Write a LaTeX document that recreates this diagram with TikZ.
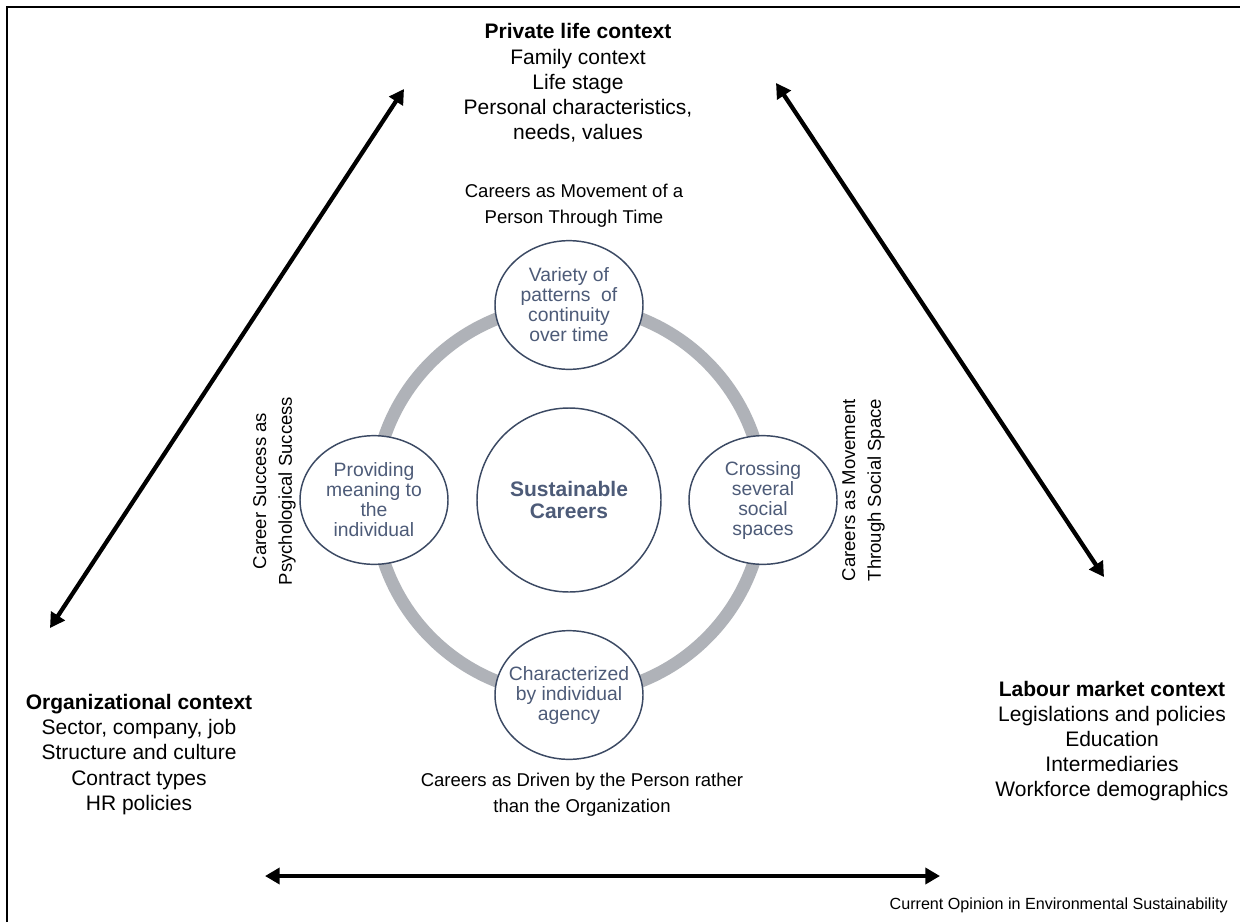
\documentclass[tikz,border=0pt]{standalone}
\usepackage{fontspec}
\setmainfont{Liberation Sans}
\usetikzlibrary{arrows.meta,shapes.geometric}
\definecolor{navy}{HTML}{3B4963}
\definecolor{slate}{HTML}{4D5B78}
\definecolor{ringgray}{HTML}{AFB2B8}
\tikzset{
  ctx/.style={align=center,inner sep=0pt,font=\fontsize{15.75}{18.9}\selectfont},
  sub/.style={align=center,inner sep=0pt,font=\fontsize{13.9}{19.4}\selectfont},
  ell/.style={draw=navy,line width=1.1pt,fill=white,ellipse,inner sep=0pt,minimum width=111pt,minimum height=96.5pt},
  elltext/.style={align=center,inner sep=0pt,text=slate,font=\fontsize{14.5}{15}\selectfont},
  ringstyle/.style={draw=ringgray,line width=9.5pt},
  bigarrow/.style={line width=3.2pt,{Triangle[length=11pt,width=12pt]}-{Triangle[length=11pt,width=12pt]}},
  framestyle/.style={line width=1.2pt}
}
\begin{document}
\begin{tikzpicture}[x=0.75pt,y=-0.75pt]
\useasboundingbox (0,0) rectangle (1240,922);
\fill[white] (0,0) rectangle (1240,922);
% frame (top and left edges visible)
\draw[framestyle] (7,922) -- (7,7) -- (1240,7);

% context blocks
\node[ctx] (priv) at (578,83) {\textbf{Private life context}\\Family context\\Life stage\\Personal characteristics,\\needs, values};
\node[ctx] (org) at (139,754.5) {\textbf{Organizational context}\\Sector, company, job\\Structure and culture\\Contract types\\HR policies};
\node[ctx] (lab) at (1112,741) {\textbf{Labour market context}\\Legislations and policies\\Education\\Intermediaries\\Workforce demographics};

% perspective labels
\node[sub] (ltime) at (574,206) {Careers as Movement of a\\Person Through Time};
\node[sub] (ldriven) at (582,794.5) {Careers as Driven by the Person rather\\than the Organization};
\node[sub,rotate=90] (lpsy) at (274.5,491) {Career Success as\\Psychological Success};
\node[sub,rotate=90] (lsoc) at (863.5,490) {Careers as Movement\\Through Social Space};

% ring
\coordinate (rc) at (569,500);
\draw[ringstyle] (rc) circle[radius=146.25pt];

% central circle
\node[circle,draw=navy,line width=1.1pt,fill=white,minimum size=138pt,inner sep=0pt,text=slate,
      font=\fontsize{15.75}{16.5}\selectfont\bfseries,align=center] (core) at (rc) {Sustainable\\Careers};

% satellite ellipses
\node[ell] (etop) at (569,305) {};
\node[elltext] (ttop) at (etop) {Variety of\\patterns\ \ of\\continuity\\over time};
\node[ell] (eleft) at (374,500) {};
\node[elltext] (tleft) at (eleft) {Providing\\meaning to\\the\\individual};
\node[ell] (eright) at (763,500) {};
\node[elltext] (tright) at (eright) {Crossing\\several\\social\\spaces};
\node[ell] (ebot) at (569,695) {};
\node[elltext] (tbot) at (ebot) {Characterized\\by individual\\agency};

% arrows
\coordinate (aol) at (50,628);
\coordinate (apl) at (404,89);
\coordinate (apr) at (776,83);
\coordinate (alr) at (1104,577);
\coordinate (abl) at (265,876);
\coordinate (abr) at (940,876);
\draw[bigarrow] (aol) -- (apl);
\draw[bigarrow] (apr) -- (alr);
\draw[bigarrow] (abl) -- (abr);

% source
\node[inner sep=0pt,anchor=east,font=\fontsize{12.1}{14}\selectfont] (src) at (1228,905) {Current Opinion in Environmental Sustainability};
\end{tikzpicture}
\end{document}
